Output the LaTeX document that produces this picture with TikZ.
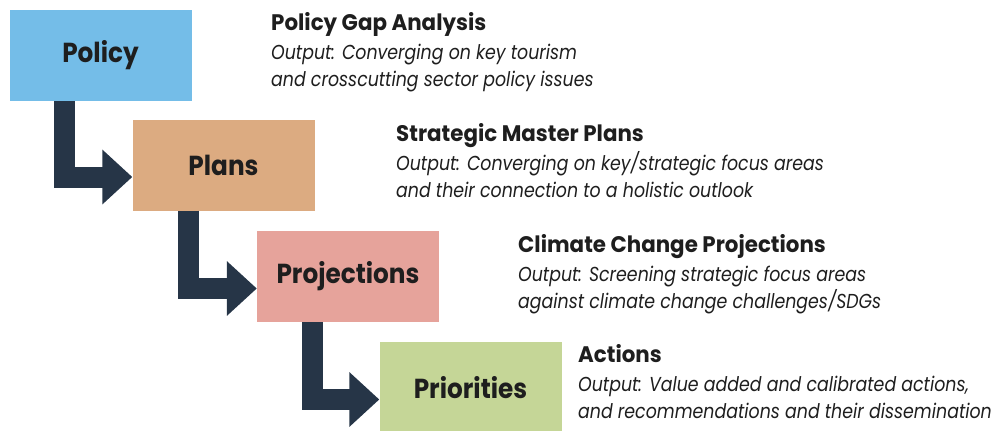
\documentclass[tikz,border=0pt]{standalone}
\usepackage{fontspec}
\setmainfont{Poppins}
\newfontfamily\bodyfont[FakeStretch=0.86]{Poppins}
\newfontfamily\titlefont[FakeStretch=0.95]{Poppins}
\newfontfamily\stagefont[FakeStretch=0.9]{Poppins}
\usetikzlibrary{arrows.meta,calc}
\definecolor{cpolicy}{HTML}{74BDE8}
\definecolor{cplans}{HTML}{DCAB81}
\definecolor{cproj}{HTML}{E6A39B}
\definecolor{cprio}{HTML}{C5D697}
\definecolor{navy}{HTML}{263547}
\definecolor{ink}{HTML}{1E1E1E}
\begin{document}
\begin{tikzpicture}[x=1pt,y=1pt,
  stagebox/.style={minimum width=182pt,minimum height=91pt,inner sep=0pt,text=ink,
    font=\stagefont\fontsize{27.5}{30}\selectfont\bfseries},
  flow/.style={draw=navy,line width=21pt,line join=miter,line cap=butt,
    -{Triangle[length=30pt,width=53pt]}},
  ttl/.style={anchor=base west,inner sep=0pt,text=ink,
    font=\titlefont\fontsize{22.5}{27}\selectfont\bfseries},
  txt/.style={anchor=base west,inner sep=0pt,text=ink,
    font=\bodyfont\fontsize{20.2}{27}\selectfont\itshape}]
\useasboundingbox (0,0) rectangle (999,-431);
\node[stagebox,fill=cpolicy] (policy) at (100.5,-55.5) {Policy};
\node[stagebox,fill=cplans] (plans) at (223.5,-165) {Plans};
\node[stagebox,fill=cproj] (proj) at (348,-276.5) {Projections};
\node[stagebox,fill=cprio] (prio) at (470.5,-387.5) {Priorities};
\draw[flow] ($(policy.south west)+(55,0)$) |- ($(plans.west)+(0,-12)$);
\draw[flow] ($(plans.south west)+(56,0)$) |- ($(proj.west)+(0,-12)$);
\draw[flow] ($(proj.south west)+(56,0)$) |- ($(prio.west)+(0,-12)$);
\node[ttl] (t1) at (271,-30) {Policy Gap Analysis};
\node[txt] (t1a) at (271,-59) {Output: Converging on key tourism};
\node[txt] (t1b) at (271,-86) {and crosscutting sector policy issues};
\node[ttl] (t2) at (396,-141) {Strategic Master Plans};
\node[txt] (t2a) at (396,-170) {Output: Converging on key/strategic focus areas};
\node[txt] (t2b) at (396,-197) {and their connection to a holistic outlook};
\node[ttl] (t3) at (518,-252) {Climate Change Projections};
\node[txt] (t3a) at (518,-281) {Output: Screening strategic focus areas};
\node[txt] (t3b) at (518,-308) {against climate change challenges/SDGs};
\node[ttl] (t4) at (578,-362) {Actions};
\node[txt] (t4a) at (578,-391) {Output: Value added and calibrated actions,};
\node[txt] (t4b) at (578,-418) {and recommendations and their dissemination};
\end{tikzpicture}
\end{document}
